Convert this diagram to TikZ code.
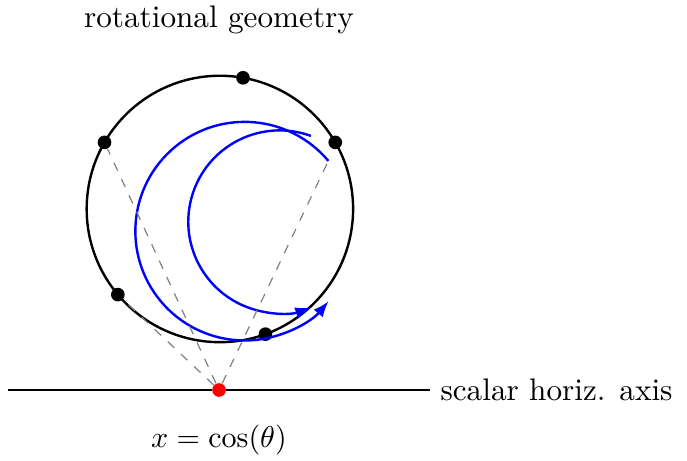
\documentclass[tikz,border=0pt]{standalone}
\usepackage{amsmath, amssymb}
\usepackage{tikz}
\usepackage{xcolor}
\usetikzlibrary{arrows,calc}

\tikzset{
    dot/.style={circle, fill=black, inner sep=0pt, minimum size=0.16cm},
    rotarc/.style={blue, thick, -latex},
    guide/.style={gray, thin, dashed}
}

\begin{document}
\begin{tikzpicture}[font=\fontsize{10.4}{12.5}\selectfont]
            \useasboundingbox (-2.565,-0.83) rectangle (5.48,4.567);
            \coordinate (c) at (0.01,2.12);
            \draw[thick] (c) circle (1.56);
            \foreach \a/\name in {80/p1, 150/p2, 30/p3, 220/p4, 290/p5}
                \node[dot] (\name) at ($(c)+(\a:1.56)$) {};
            % rotation arcs
            \coordinate (oc) at (0.30,1.86);
            \coordinate (ostart) at ($(oc)+(40:1.28)$);
            \draw[rotarc] (ostart) arc (40:320:1.28);
            \coordinate (ic) at (0.71,1.97);
            \draw[rotarc] ($(ic)+(70:1.07)$) arc (70:290:1.07);
            % axis
            \node[dot, fill=red] (o) at (0,0) {};
            \coordinate (al) at (-2.47,0);
            \coordinate (ar) at (2.47,0);
            \draw[thick] (al) -- (o) -- (ar);
            \node[right] (axlabel) at (ar) {scalar horiz. axis};
            \draw[guide] (o) -- (p2);
            \draw[guide] (o) -- (p4);
            \draw[guide] (o) -- (ostart);
            \node (xlabel) at (0,-0.59) {$x=\cos(\theta)$};
            \node (title) at (0,4.33) {rotational geometry};
        \end{tikzpicture}
\end{document}
